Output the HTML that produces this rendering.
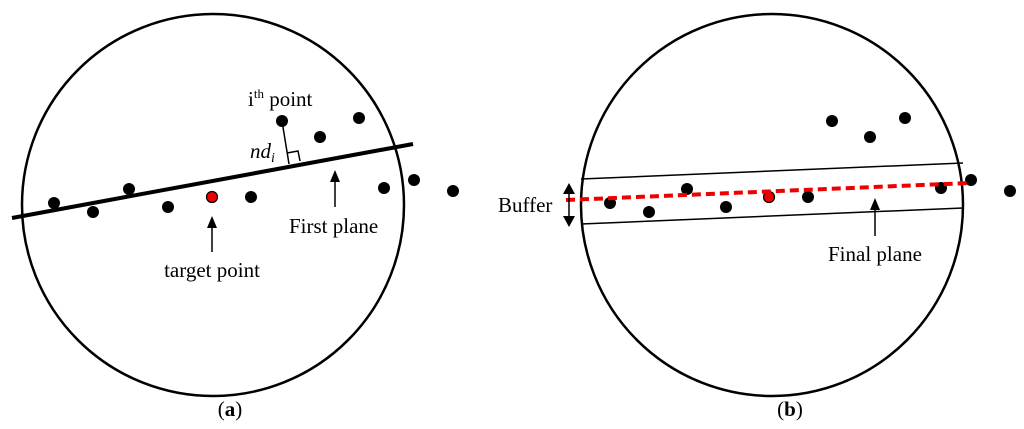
<!DOCTYPE html>
<html><head><style>body{margin:0;background:#fff}svg{display:block}text{font-family:"Liberation Serif",serif;fill:#000}</style></head><body>
<svg width="1024" height="429" viewBox="0 0 1024 429">
<defs><marker id="ah" markerWidth="12" markerHeight="10" refX="6" refY="5" orient="auto" markerUnits="userSpaceOnUse"><path d="M0,0 L12,5 L0,10 z" fill="#000"/></marker></defs>
<circle cx="213" cy="205" r="191" fill="none" stroke="#000" stroke-width="2.5"/>
<circle cx="772" cy="205" r="191" fill="none" stroke="#000" stroke-width="2.5"/>
<line x1="12" y1="218" x2="413" y2="144" stroke="#000" stroke-width="4"/>
<line x1="282" y1="121" x2="289" y2="164" stroke="#000" stroke-width="1.5"/>
<polyline points="287,153 298,151 300,161" fill="none" stroke="#000" stroke-width="1.5"/>
<g fill="#000">
<circle cx="54" cy="203" r="6"/><circle cx="93" cy="212" r="6"/><circle cx="129" cy="189" r="6"/><circle cx="168" cy="207" r="6"/><circle cx="251" cy="197" r="6"/><circle cx="282" cy="121" r="6"/><circle cx="320" cy="137" r="6"/><circle cx="359" cy="118" r="6"/><circle cx="384" cy="188" r="6"/><circle cx="414" cy="180" r="6"/><circle cx="453" cy="191" r="6"/>
</g>
<circle cx="212" cy="197" r="5.5" fill="#e00" stroke="#000" stroke-width="1.2"/>
<line x1="212" y1="252" x2="212" y2="222" stroke="#000" stroke-width="1.5" marker-end="url(#ah)"/>
<line x1="335" y1="207" x2="335" y2="176" stroke="#000" stroke-width="1.5" marker-end="url(#ah)"/>
<text x="248" y="106" font-size="21">i<tspan font-size="13" dy="-8">th</tspan><tspan dy="8"> point</tspan></text>
<text x="250" y="158" font-size="21" font-style="italic">nd<tspan font-size="14" dy="4">i</tspan></text>
<text x="212" y="277" font-size="21" text-anchor="middle">target point</text>
<text x="289" y="233" font-size="21">First plane</text>
<text x="230" y="416" font-size="21" text-anchor="middle">(<tspan font-weight="bold">a</tspan>)</text>
<line x1="581" y1="179" x2="963" y2="163" stroke="#000" stroke-width="1.5"/>
<line x1="581" y1="224" x2="963" y2="208" stroke="#000" stroke-width="1.5"/>
<g fill="#000">
<circle cx="832" cy="121" r="6"/><circle cx="870" cy="137" r="6"/><circle cx="905" cy="118" r="6"/><circle cx="610" cy="203" r="6"/><circle cx="649" cy="212" r="6"/><circle cx="687" cy="189" r="6"/><circle cx="726" cy="207" r="6"/><circle cx="808" cy="197" r="6"/><circle cx="941" cy="188" r="6"/><circle cx="971" cy="180" r="6"/><circle cx="1010" cy="191" r="6"/>
</g>
<circle cx="769" cy="197" r="5.5" fill="#e00" stroke="#000" stroke-width="1.2"/>
<line x1="566" y1="200" x2="969" y2="183" stroke="#e00" stroke-width="4" stroke-dasharray="9,5"/>
<line x1="569" y1="192" x2="569" y2="218" stroke="#000" stroke-width="1.5"/>
<path d="M569,183 L563,194 L575,194 z M569,227 L563,216 L575,216 z" fill="#000"/>
<line x1="875" y1="236" x2="875" y2="204" stroke="#000" stroke-width="1.5" marker-end="url(#ah)"/>
<text x="498" y="212" font-size="21">Buffer</text>
<text x="828" y="261" font-size="21">Final plane</text>
<text x="790" y="416" font-size="21" text-anchor="middle">(<tspan font-weight="bold">b</tspan>)</text>
</svg>
</body></html>
